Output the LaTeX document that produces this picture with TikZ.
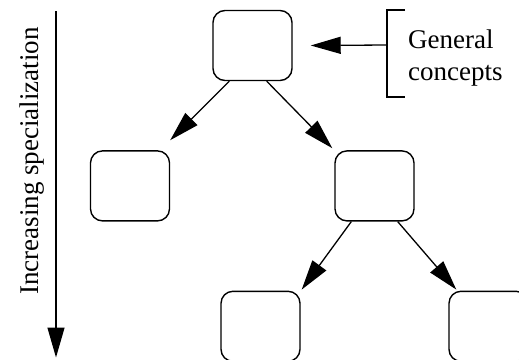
\documentclass[tikz,border=0pt]{standalone}
\usepackage{fontspec}
\setmainfont{Liberation Serif}
\usepackage{tikz}
\usetikzlibrary{positioning,arrows.meta}
\newlength{\lvl}
\setlength{\lvl}{69pt}

\begin{document}
\begin{tikzpicture}[x=1pt, y=-1pt,
    concept/.style={draw, rectangle, rounded corners=12pt, line width=1.4pt,
      minimum width=79pt, minimum height=70pt, inner sep=0pt},
    spec/.style={-{Triangle[length=30pt,width=17pt]}, line width=1.3pt},
    txt/.style={font=\fontsize{27}{32}\selectfont, inner sep=0pt}]
    \useasboundingbox (0,0) rectangle (519,359);

    % concept nodes
    \node[concept] (top) at (252.5,45.5) {};
    \node[concept, below=\lvl of top, xshift=-122.5pt] (left) {};
    \node[concept, below=\lvl of top, xshift=122pt] (mid) {};
    \node[concept, below=\lvl of mid, xshift=-114pt] (botl) {};
    \node[concept, below=\lvl of mid, xshift=114pt] (botr) {};

    % specialization arrows
    \draw[spec] ([xshift=17pt]top.south west) -- ([yshift=10pt]left.north east);
    \draw[spec] ([xshift=-26pt]top.south east) -- ([shift={(-2pt,2pt)}]mid.north west);
    \draw[spec] ([xshift=17pt]mid.south west) -- ([shift={(1pt,1pt)}]botl.north east);
    \draw[spec] ([xshift=-17pt]mid.south east) -- ([shift={(8pt,1pt)}]botr.north west);

    % general concepts label
    \node[txt, anchor=north west, align=left] (gen) at (408,29.5) {General\\concepts};
    \coordinate (brtop) at (405,10);
    \coordinate (brbot) at (405,97);
    \coordinate (brmid) at (387,45);
    \draw[line width=1.3pt] (brtop) -- ++(-18,0) |- (brbot);
    \draw[spec] (brmid) -- ([xshift=18pt]top.east);

    % axis
    \coordinate (axtop) at (56,11);
    \coordinate (axbot) at (56,357.5);
    \draw[spec] (axtop) -- (axbot);
    \node[txt, rotate=90, anchor=base] (axlabel) at (38.5,161) {Increasing specialization};
\end{tikzpicture}
\end{document}
